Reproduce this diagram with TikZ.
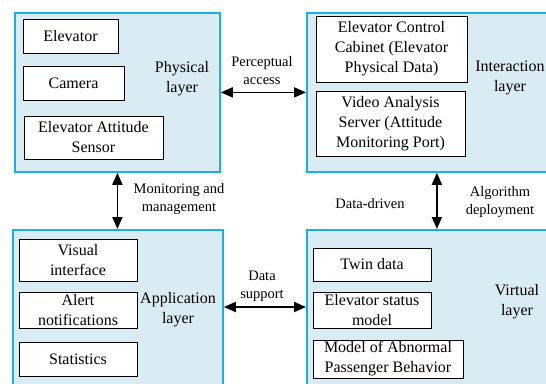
\documentclass[tikz,border=0pt]{standalone}
\usepackage{fontspec}
\setmainfont{Liberation Serif}
\newfontfamily\timesfam{Liberation Serif}
\usetikzlibrary{arrows.meta}
\definecolor{layerfill}{HTML}{DAECF3}
\definecolor{layerline}{HTML}{1BAEE8}
\tikzset{
  layerbox/.style={draw=layerline, fill=layerfill, line width=1.8pt, inner sep=0pt, anchor=north west},
  itembox/.style={draw=black, fill=white, line width=1pt, inner sep=0pt, align=center,
    font=\timesfam\fontsize{16}{20}\selectfont},
  layertext/.style={align=center, inner sep=0pt, font=\timesfam\fontsize{16}{20}\selectfont},
  edgetext/.style={align=center, inner sep=0pt, font=\timesfam\fontsize{14.5}{18}\selectfont},
  dbl/.style={{Triangle[length=12pt,width=10pt]}-{Triangle[length=12pt,width=10pt]}, line width=1.8pt},
}
\begin{document}
\begin{tikzpicture}[x=1pt,y=-1pt]
\useasboundingbox (0,0) rectangle (546,383);

% layer frames
\node[layerbox, minimum width=205pt, minimum height=159pt] (phys) at (14,12) {};
\node[layerbox, minimum width=260pt, minimum height=159pt] (inter) at (306,12) {};
\node[layerbox, minimum width=210pt, minimum height=180pt] (app) at (12,229) {};
\node[layerbox, minimum width=260pt, minimum height=180pt] (virt) at (306,229) {};

% physical layer
\node[itembox, minimum width=95pt, minimum height=34pt] (elev) at (70.5,36) {Elevator};
\node[itembox, minimum width=101pt, minimum height=34pt] (cam) at (73.5,83) {Camera};
\node[itembox, minimum width=139pt, minimum height=43pt] (eas) at (93.5,137.5) {Elevator Attitude\\Sensor};
\node[layertext] (physlbl) at (182,79) {Physical\\layer};

% interaction layer
\node[itembox, minimum width=151pt, minimum height=66pt] (ecc) at (391.5,49) {Elevator Control\\Cabinet (Elevator\\Physical Data)};
\node[itembox, minimum width=149pt, minimum height=65pt] (vas) at (390.5,123.5) {Video Analysis\\Server (Attitude\\Monitoring Port)};
\node[layertext] (interlbl) at (510,78) {Interaction\\layer};

% application layer
\node[itembox, minimum width=118pt, minimum height=42pt] (vis) at (78,260) {Visual\\interface};
\node[itembox, minimum width=118pt, minimum height=36pt] (alert) at (78,310) {Alert\\notifications};
\node[itembox, minimum width=118pt, minimum height=34pt] (stat) at (78,359) {Statistics};
\node[layertext] (applbl) at (178,310) {Application\\layer};

% virtual layer
\node[itembox, minimum width=118pt, minimum height=33pt] (twin) at (372,264.5) {Twin data};
\node[itembox, minimum width=118pt, minimum height=36pt] (esm) at (372,310) {Elevator status\\model};
\node[itembox, minimum width=150pt, minimum height=38pt] (mapb) at (388,359) {Model of Abnormal\\Passenger Behavior};
\node[layertext] (virtlbl) at (517,302) {Virtual\\layer};

% connectors between layers
\draw[dbl] (phys.east) -- (phys.east -| inter.west);
\draw[dbl] (phys.south) -- (phys.south |- app.north);
\draw[dbl] ([yshift=-78pt]app.north east) -- ([yshift=-78pt]app.north east -| virt.west);
\draw[dbl] (inter.south) -- (virt.north);

% connector labels
\node[edgetext] (lpa) at (262,71) {Perceptual\\access};
\node[edgetext] (lmm) at (179,199) {Monitoring and\\management};
\node[edgetext] (lds) at (262,286) {Data\\support};
\node[edgetext] (ldd) at (370,204) {Data-driven};
\node[edgetext] (lad) at (500,202) {Algorithm\\deployment};
\end{tikzpicture}
\end{document}
